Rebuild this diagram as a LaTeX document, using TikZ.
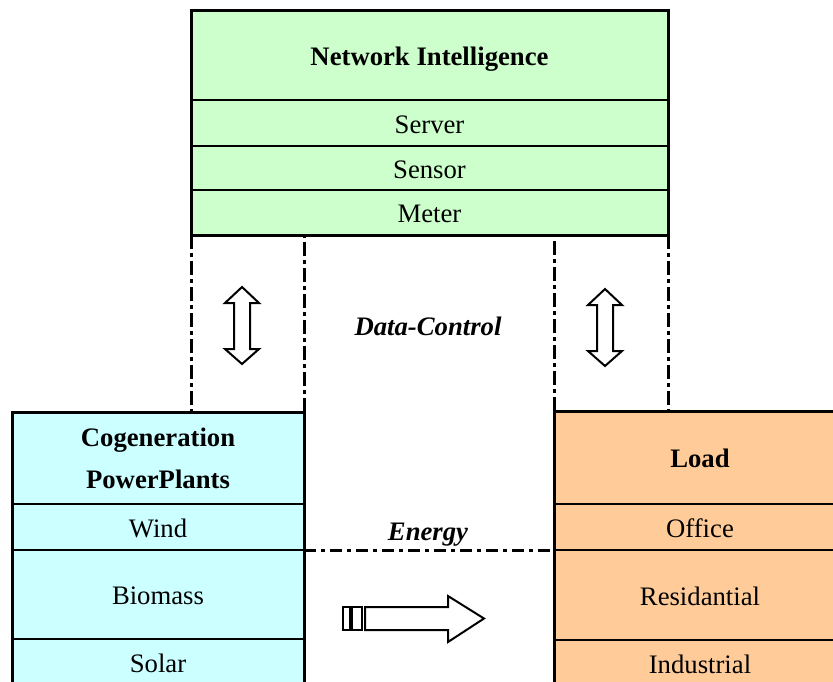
\documentclass[tikz,border=0pt]{standalone}
\usepackage{fontspec}
\setmainfont{Liberation Serif}
\usetikzlibrary{positioning}
\definecolor{ngreen}{HTML}{CCFFCC}
\definecolor{ncyan}{HTML}{CCFFFF}
\definecolor{norange}{HTML}{FFCC99}
\begin{document}
\begin{tikzpicture}[x=1pt,y=-1pt,
    cell/.style={draw, line width=2pt, inner sep=0pt, outer sep=0pt, align=center, font=\fontsize{26.7}{42}\selectfont},
    oneline/.style={text height=20pt, text depth=0pt},
    head/.style={font=\fontsize{26.7}{42}\selectfont\bfseries},
    greencell/.style={cell, oneline, fill=ngreen, minimum width=477pt},
    cyancell/.style={cell, oneline, fill=ncyan, minimum width=292pt},
    orangecell/.style={cell, oneline, fill=norange, minimum width=292pt},
    dashdot/.style={line width=3pt, dash pattern=on 14pt off 4pt on 4pt off 4pt},
    hollow/.style={draw, fill=white, line width=2pt, line join=miter}]
    \clip (0,0) rectangle (833,681);
    \node[greencell, head, minimum height=90pt, anchor=north west] (ni) at (191,10) {Network Intelligence};
    \node[greencell, minimum height=46pt, below=0pt of ni] (server) {Server};
    \node[greencell, minimum height=44pt, below=0pt of server] (sensor) {Sensor};
    \node[greencell, minimum height=45pt, below=0pt of sensor] (meter) {Meter};
    \node[cell, head, fill=ncyan, minimum width=292pt, minimum height=92pt, anchor=north west] (cogen) at (12,412) {Cogeneration\\PowerPlants};
    \node[cyancell, minimum height=46pt, below=0pt of cogen] (wind) {Wind};
    \node[cyancell, minimum height=89pt, below=0pt of wind] (biomass) {Biomass};
    \node[cyancell, minimum height=46pt, below=0pt of biomass] (solar) {Solar};
    \node[orangecell, head, minimum height=93pt, anchor=north west] (load) at (554,411) {Load};
    \node[orangecell, minimum height=46pt, below=0pt of load] (office) {Office};
    \node[orangecell, minimum height=90pt, below=0pt of office] (resid) {Residantial};
    \node[orangecell, minimum height=46pt, below=0pt of resid] (industrial) {Industrial};
    \draw[line width=3pt] (ni.north west) rectangle (meter.south east);
    \draw[line width=3pt] (cogen.north west) rectangle (solar.south east);
    \draw[line width=3pt] (load.north west) rectangle (industrial.south east);
    \draw[dashdot] (meter.south west) -- (meter.south west |- cogen.north);
    \draw[dashdot] (cogen.north east) -- (cogen.north east |- meter.south);
    \draw[dashdot] (load.north west) -- (load.north west |- meter.south);
    \draw[dashdot] (meter.south east) -- (meter.south east |- load.north);
    \draw[line width=3pt, dash pattern=on 12pt off 5pt on 4pt off 5pt] (wind.south east) -- (office.south west);
    \node[oneline, font=\fontsize{26.7}{42}\selectfont\bfseries\itshape] (dc) at (428,325) {Data-Control};
    \node[oneline, font=\fontsize{26.7}{42}\selectfont\bfseries\itshape] (energy) at (428,530) {Energy};
    \foreach \x/\y in {242/287, 605/289}
    \draw[hollow] (\x,\y) -- ++(17,16) -- ++(-9,0) -- ++(0,46) -- ++(9,0) -- ++(-17,15) -- ++(-17,-15) -- ++(9,0) -- ++(0,-46) -- ++(-9,0) -- cycle;
    \draw[hollow] (343,607) rectangle (350,630);
    \draw[hollow] (352,607) rectangle (362,630);
    \draw[hollow] (365,607) -- (448,607) -- (448,596) -- (484,618.5) -- (448,642) -- (448,630) -- (365,630) -- cycle;
\end{tikzpicture}
\end{document}
